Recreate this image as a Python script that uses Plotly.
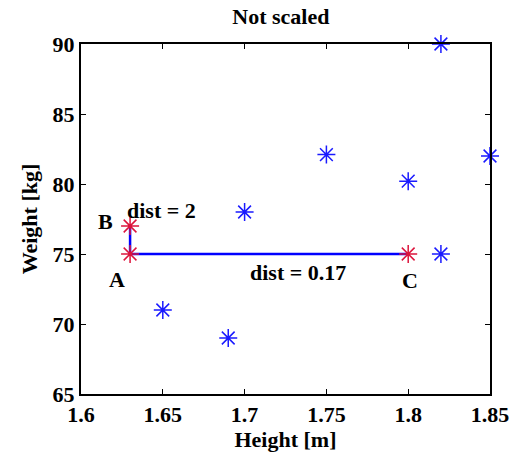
import plotly.graph_objects as go

# Data
heights = [1.65, 1.69, 1.70, 1.75, 1.80, 1.82, 1.82, 1.85]
weights = [71, 69, 78, 82.1, 80.2, 75, 90, 82]
sel_x = [1.63, 1.63, 1.80]
sel_y = [75, 77, 75]
sel_labels = ["A", "B", "C"]
x_ticks = [1.6, 1.65, 1.7, 1.75, 1.8, 1.85]
y_ticks = [65, 70, 75, 80, 85, 90]

FONT = "Liberation Serif"
FS = 22
fig = go.Figure()

# distance lines A-B and A-C
fig.add_trace(go.Scatter(x=[sel_x[1], sel_x[0], sel_x[2]], y=[sel_y[1], sel_y[0], sel_y[2]],
                         mode="lines", line=dict(color="#0000ff", width=2.5),
                         hoverinfo="skip", showlegend=False))
fig.add_trace(go.Scatter(x=heights, y=weights, mode="markers",
                         marker=dict(symbol="asterisk-open", size=15, color="#1a1aff",
                                     line=dict(color="#1a1aff", width=1.5)),
                         cliponaxis=False, showlegend=False))
fig.add_trace(go.Scatter(x=sel_x, y=sel_y, mode="markers",
                         marker=dict(symbol="asterisk-open", size=15, color="#dc143c",
                                     line=dict(color="#dc143c", width=1.5)),
                         cliponaxis=False, showlegend=False))

tf = dict(family=FONT, size=FS, color="black")
anns = [
    (1.6147, 77.3, "<b>B</b>"), (1.622, 73.2, "<b>A</b>"), (1.801, 73.1, "<b>C</b>"),
    (1.6495, 78.1, "<b>dist = 2</b>"), (1.7326, 73.7, "<b>dist = 0.17</b>"),
]
for x, y, t in anns:
    fig.add_annotation(x=x, y=y, text=t, showarrow=False, font=tf,
                       xanchor="center", yanchor="middle")

axis_common = dict(showline=True, linecolor="black", linewidth=2, mirror="ticks",
                   ticks="inside", ticklen=5, tickwidth=1, tickcolor="black",
                   showgrid=False, zeroline=False,
                   tickfont=dict(family=FONT, size=FS, color="black"))
fig.update_xaxes(range=[1.6, 1.85], tickvals=x_ticks,
                 ticktext=[f"<b>{v:g}</b>" for v in x_ticks],
                 title=dict(text="<b>Height [m]</b>", font=tf, standoff=0), **axis_common)
fig.update_yaxes(range=[65, 90], tickvals=y_ticks,
                 ticktext=[f"<b>{v:g}</b>" for v in y_ticks],
                 title=dict(text="<b>Weight [kg]</b>", font=tf, standoff=9), **axis_common)

fig.update_layout(width=523, height=456, margin=dict(l=81, r=33, t=44, b=62),
                  plot_bgcolor="white", paper_bgcolor="white",
                  title=dict(text="<b>Not scaled</b>", x=0.537, xanchor="center", y=0.965,
                             yanchor="middle", font=tf))
fig.write_html("out.html")
